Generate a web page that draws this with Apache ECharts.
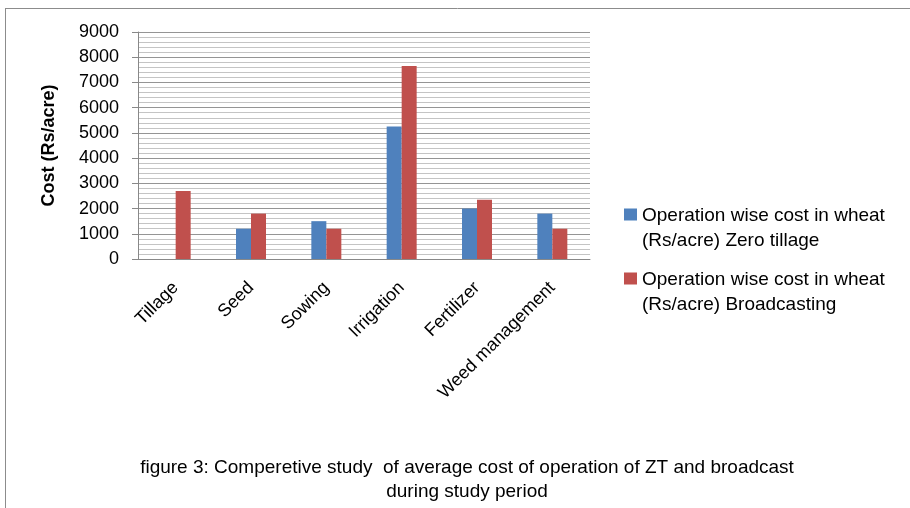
<!DOCTYPE html>
<html>
<head>
<meta charset="utf-8">
<script src="https://cdn.jsdelivr.net/npm/echarts@6/dist/echarts.min.js"></script>
<style>
html,body{margin:0;padding:0;background:#fff;}
#c{width:910px;height:508px;}
</style>
</head>
<body>
<div id="c"></div>
<script>
var categories = ['Tillage', 'Seed', 'Sowing', 'Irrigation', 'Fertilizer', 'Weed management'];
var zeroTillage = [0, 1200, 1500, 5250, 2000, 1800];
var broadcasting = [2700, 1800, 1200, 7650, 2350, 1200];
var seriesNames = ['Operation wise cost in wheat\n(Rs/acre) Zero tillage', 'Operation wise cost in wheat\n(Rs/acre) Broadcasting'];
var yTicks = {min: 0, max: 9000, interval: 1000};
var yTitle = 'Cost (Rs/acre)';
var caption = 'figure 3: Comperetive study  of average cost of operation of ZT and broadcast\nduring study period';

var FONT = 'Liberation Sans, Arial, sans-serif';
var chart = echarts.init(document.getElementById('c'));
var iconPath = 'path://M0,5.5L13,5.5L13,17.5L0,17.5Z M0,0L0.01,0L0.01,0.01Z M0,50L0.01,50L0.01,49.99Z';
chart.setOption({
  animation: false,
  backgroundColor: '#fff',
  grid: {left: 138, right: 320, top: 32, bottom: 249, containLabel: false, outerBoundsMode: 'none'},
  legend: {
    orient: 'vertical', left: 624, top: 203, itemGap: 14, padding: 0,
    itemWidth: 13, itemHeight: 50, icon: iconPath,
    itemStyle: {borderWidth: 0},
    textStyle: {fontFamily: FONT, fontSize: 19, color: '#000', lineHeight: 25},
    data: seriesNames
  },
  xAxis: {
    type: 'category', data: categories,
    axisLine: {lineStyle: {color: '#888', width: 1}},
    axisTick: {show: false},
    axisLabel: {interval: 0, rotate: 45, margin: 26, fontFamily: FONT, fontSize: 18, color: '#000'}
  },
  yAxis: {
    type: 'value', min: yTicks.min, max: yTicks.max, interval: yTicks.interval,
    name: yTitle, nameLocation: 'middle', nameGap: 80, nameRotate: 90,
    nameTextStyle: {fontFamily: FONT, fontSize: 18, fontWeight: 'bold', color: '#000'},
    axisLine: {show: true, lineStyle: {color: '#888', width: 1}},
    axisTick: {show: true, length: 6, lineStyle: {color: '#888'}},
    axisLabel: {margin: 19, fontFamily: FONT, fontSize: 18, color: '#000',
                formatter: function (v) { return String(v); }},
    splitLine: {lineStyle: {color: '#959595', width: 1}},
    minorTick: {show: false, splitNumber: 5},
    minorSplitLine: {show: true, lineStyle: {color: '#c4c4c4', width: 1}}
  },
  series: [
    {name: seriesNames[0], type: 'bar', data: zeroTillage, barWidth: 15, barGap: '0%',
     itemStyle: {color: '#4F81BD'}},
    {name: seriesNames[1], type: 'bar', data: broadcasting, barWidth: 15, barGap: '0%',
     itemStyle: {color: '#C0504D'}}
  ],
  graphic: [
    {type: 'line', shape: {x1: 5.5, y1: 8, x2: 5.5, y2: 508}, style: {stroke: '#8c8c8c', lineWidth: 1}},
    {type: 'line', shape: {x1: 5, y1: 8.5, x2: 910, y2: 8.5}, style: {stroke: '#8c8c8c', lineWidth: 1}},
    {type: 'text', x: 467, y: 456,
     style: {text: caption, fontFamily: FONT, fontSize: 19, fill: '#000', align: 'center', verticalAlign: 'top', lineHeight: 24}}
  ]
});
</script>
</body>
</html>
